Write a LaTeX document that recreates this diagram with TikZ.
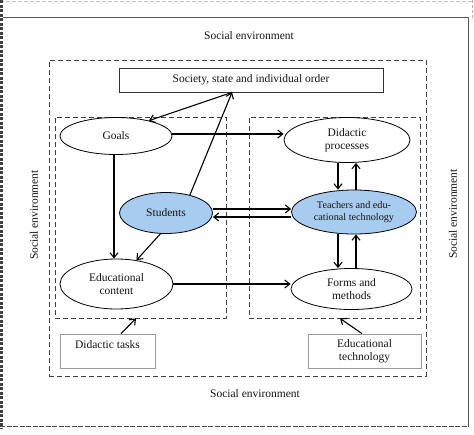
\documentclass[tikz,border=0pt]{standalone}
\usepackage{fontspec}
\setmainfont{Liberation Serif}
\usetikzlibrary{arrows.meta,shapes.geometric}
\definecolor{lblue}{RGB}{168,204,240}
\definecolor{txt}{RGB}{20,20,20}
\begin{document}
\begin{tikzpicture}[x=1pt,y=-1pt,
  every node/.style={text=txt},
  ell/.style={draw=black, line width=0.8pt, ellipse, inner sep=0pt, align=center,
    font=\fontsize{11.5}{13.3}\selectfont},
  boxA/.style={draw=black!80, line width=0.8pt, rectangle, inner sep=0pt, align=center,
    font=\fontsize{11.5}{13.3}\selectfont},
  boxB/.style={draw=black!40, line width=0.8pt, rectangle, inner sep=0pt, align=center,
    font=\fontsize{11.5}{13.3}\selectfont},
  dbox/.style={draw=black!75, line width=0.8pt, dash pattern=on 5pt off 3pt, rectangle, inner sep=0pt},
  envtext/.style={font=\fontsize{11.5}{13.3}\selectfont},
  arr/.style={draw=black, line width=1.1pt, -{Straight Barb[length=5pt,width=8pt]}}
]
\useasboundingbox (0,0) rectangle (474,434);
% outer frame
\draw[black!25, line width=1.5pt, dash pattern=on 4pt off 2pt] (0,1.5) -- (474,1.5);
\draw[black!75, line width=2.8pt, dash pattern=on 3pt off 1.5pt] (1.4,0) -- (1.4,429);
\draw[black!70, line width=1.5pt, dash pattern=on 5pt off 1.5pt] (0,426.5) -- (469,426.5);
\draw[black!65, line width=1pt] (2.5,17) -- (468,17) -- (468,426);
\draw[black!30, line width=1pt, dash pattern=on 3pt off 2pt] (472,0) -- (472,20);

% environment labels
\node[envtext] (envtop) at (249,36) {Social environment};
\node[envtext] (envbot) at (255,394) {Social environment};
\node[envtext, rotate=90] (envleft) at (34,215) {Social environment};
\node[envtext, rotate=90] (envright) at (453,214) {Social environment};

% dashed containers
\node[dbox, minimum width=377pt, minimum height=316pt] (big) at (237.5,218) {};
\node[dbox, minimum width=171pt, minimum height=201pt] (leftbox) at (140.5,217.5) {};
\node[dbox, minimum width=171pt, minimum height=201pt] (rightbox) at (334.5,217.5) {};

% boxes
\node[boxA, minimum width=264pt, minimum height=24pt] (society) at (251,80) {Society, state and individual order};
\node[boxB, minimum width=95pt, minimum height=34pt] (tasks) at (107.5,351) {Didactic tasks\\\phantom{x}};
\node[boxB, minimum width=113pt, minimum height=34pt] (edtech) at (364.5,351) {Educational\\technology};

% ellipses
\node[ell, minimum width=112pt, minimum height=37pt] (goals) at (116,136) {Goals};
\node[ell, minimum width=126pt, minimum height=45pt] (didactic) at (347,140) {Didactic\\processes};
\node[ell, fill=lblue, minimum width=93pt, minimum height=41pt] (students) at (166,213) {Students};
\node[ell, fill=lblue, minimum width=125pt, minimum height=44pt, font=\fontsize{10.2}{12.5}\selectfont] (teachers) at (354,212) {Teachers and edu-\\cational technology};
\node[ell, minimum width=113pt, minimum height=50pt] (content) at (116.5,284) {Educational\\content};
\node[ell, minimum width=121pt, minimum height=41pt] (forms) at (351.5,289) {Forms and\\methods};

% connectors
\draw[arr] ([xshift=-19pt]society.south) -- (goals.25);
\draw[arr] (students.37) -- ([xshift=-19pt]society.south);
\draw[arr] ([yshift=2pt]goals.east) -- ([yshift=2pt]goals.east -| didactic.west);
\draw[arr] ([xshift=-2pt]goals.south) -- ([xshift=-2pt]goals.south |- content.north);
\draw[arr] (students.255) -- (content.50);
\draw[arr] ([yshift=4pt]students.east) -- ([yshift=4pt]students.east -| teachers.west);
\draw[arr] ([yshift=-4pt]students.east -| teachers.west) -- ([yshift=-4pt]students.east);
\draw[arr] ([xshift=-9pt]didactic.south) -- ([xshift=-9pt]didactic.south |- teachers.north);
\draw[arr] ([xshift=2pt]teachers.north) -- ([xshift=2pt]teachers.north |- didactic.south);
\draw[arr] ([xshift=-16pt]teachers.south) -- ([xshift=-16pt]teachers.south |- forms.north);
\draw[arr] ([xshift=4.5pt]forms.north) -- ([xshift=4.5pt]forms.north |- teachers.south);
\draw[arr] (content.east) -- (content.east -| forms.west);
\draw[arr] ([xshift=13.5pt]tasks.north) -- ([xshift=-4.5pt]leftbox.south);
\draw[arr] ([xshift=-2.5pt]edtech.north) -- ([xshift=5.5pt]rightbox.south);
\end{tikzpicture}
\end{document}
